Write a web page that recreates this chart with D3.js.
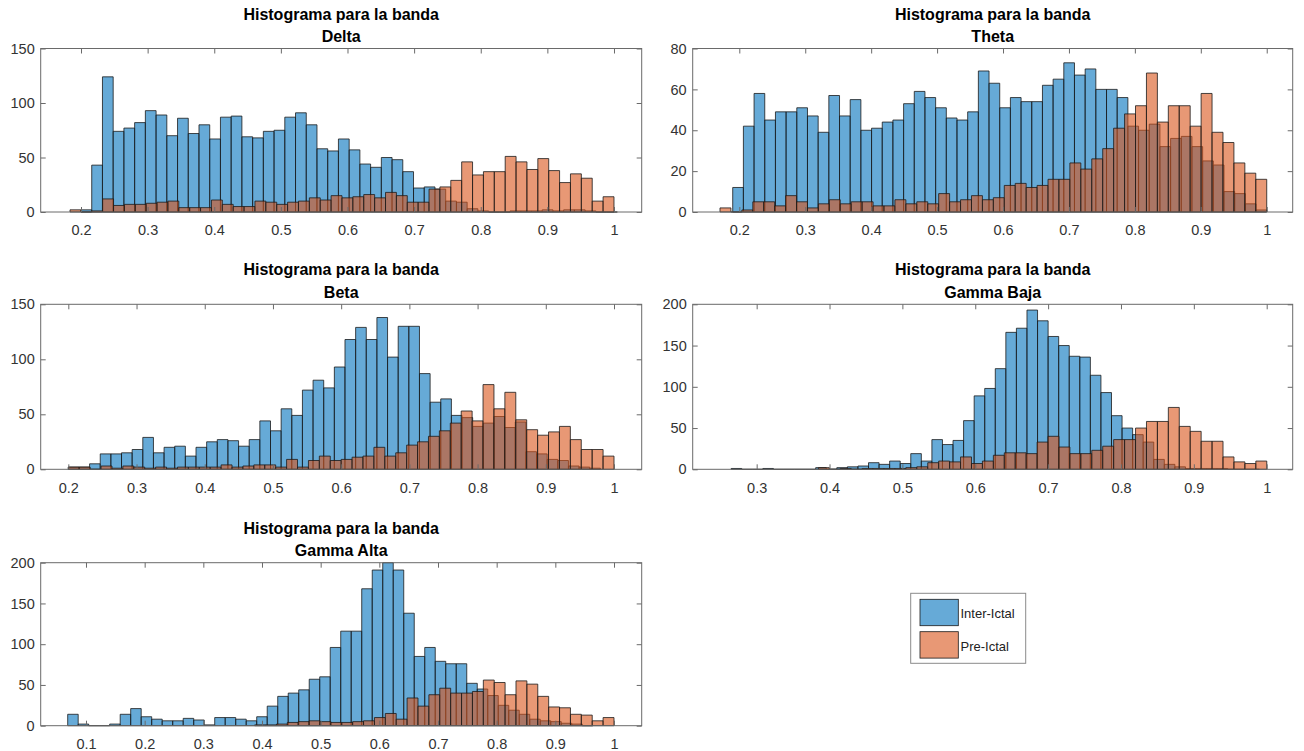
<!DOCTYPE html>
<html>
<head>
<meta charset="utf-8">
<script src="https://cdn.jsdelivr.net/npm/d3@7"></script>
<style>
  body { margin: 0; background: #fff; }
  svg { display: block; font-family: "Liberation Sans", Arial, Helvetica, sans-serif; }
</style>
</head>
<body>
<svg id="chart" width="1304" height="751"></svg>
<script>
// ---- data ---------------------------------------------------------------
const seriesNames = ["Inter-Ictal", "Pre-Ictal"];
const bandNames = ["Delta", "Theta", "Beta", "Gamma Baja", "Gamma Alta"];
const titlePrefix = "Histograma para la banda";

// each histogram: [first bin edge, bin width] and the counts per bin
const deltaInterBins = [0.2, 0.0161];
const deltaInter = [2,43,124,74,77,82,93,89,70,86,72,80,67,87,88,69,68,74,75,87,91,80,58,56,67,57,44,41,50,48,37,22,23,21,10,9,3,1,0,0,1,1,1,2,1,2,2,1,0,0];
const deltaPreBins = [0.1835, 0.01633];
const deltaPre = [2,0,1,12,6,7,7,8,9,10,4,4,4,11,7,5,5,10,9,7,9,10,13,11,15,13,14,16,13,18,15,9,9,21,23,29,46,34,37,37,51,46,39,49,38,27,35,31,10,14];

const thetaInterBins = [0.19, 0.0162];
const thetaInter = [12,42,58,45,49,49,51,47,39,57,47,55,40,41,44,45,53,59,56,51,46,45,49,69,63,51,56,54,54,62,65,73,67,70,60,60,56,42,40,43,32,36,37,32,25,23,10,9,4,1];
const thetaPreBins = [0.1707, 0.016586];
const thetaPre = [2,0,1,5,5,3,8,5,2,4,6,4,5,5,3,3,6,4,5,4,9,5,6,8,6,7,13,14,12,13,16,16,24,21,26,31,41,48,52,68,44,52,52,42,58,39,34,24,19,16];

const betaInterBins = [0.2, 0.0156];
const betaInter = [2,2,5,14,14,15,18,29,15,20,21,12,20,25,27,26,21,27,44,35,55,49,72,81,74,93,118,129,118,138,102,130,130,87,61,64,49,47,39,42,48,38,43,16,14,9,8,3,2,1];
const betaPreBins = [0.2, 0.016];
const betaPre = [2,2,0,3,1,3,2,1,2,1,2,2,2,2,4,2,3,4,4,2,9,2,8,12,8,9,11,12,20,12,15,22,25,30,35,42,53,44,77,55,70,45,36,31,34,39,27,18,18,12];

const gammaBajaInterBins = [0.265, 0.0145];
const gammaBajaInter = [1,0,0,1,0,0,0,0,2,0,2,3,4,8,6,10,7,19,10,36,30,35,59,89,98,122,166,171,193,180,161,150,137,136,114,93,65,50,42,33,12,6,3,1,1,1,1,0,0,0];
const gammaBajaPreBins = [0.3847, 0.01501];
const gammaBajaPre = [2,0,1,0,1,1,1,1,2,3,8,10,9,15,7,10,17,20,20,19,33,40,27,19,19,23,28,36,36,50,58,58,75,52,46,34,34,15,9,7,10];

const gammaAltaInterBins = [0.0688, 0.0179];
const gammaAltaInter = [14,2,0,0,2,14,21,11,8,6,6,9,7,1,10,10,8,6,11,24,36,40,44,57,60,96,116,116,168,191,200,191,138,85,96,79,76,76,52,45,37,25,19,14,8,6,5,3,2,0];
const gammaAltaPreBins = [0.3875, 0.01856];
const gammaAltaPre = [1,1,2,4,5,6,5,4,4,5,6,10,15,8,34,24,38,46,40,40,42,56,53,38,55,51,36,23,22,14,13,6,10];

// axis limits and ticks
const deltaXRange = [0.1395, 1.0416], deltaYTicks = [0, 50, 100, 150];
const thetaXRange = [0.1293, 1.0394], thetaYTicks = [0, 20, 40, 60, 80];
const betaXRange = [0.1595, 1.0406], betaYTicks = [0, 50, 100, 150];
const gammaBajaXRange = [0.2122, 1.0357], gammaBajaYTicks = [0, 50, 100, 150, 200];
const gammaAltaXRange = [0.0228, 1.0472], gammaAltaYTicks = [0, 50, 100, 150, 200];
const xTicksFrom02 = [0.2, 0.3, 0.4, 0.5, 0.6, 0.7, 0.8, 0.9, 1];
const xTicksFrom03 = [0.3, 0.4, 0.5, 0.6, 0.7, 0.8, 0.9, 1];
const xTicksFrom01 = [0.1, 0.2, 0.3, 0.4, 0.5, 0.6, 0.7, 0.8, 0.9, 1];

const panels = [
  { band: bandNames[0], xRange: deltaXRange, xTicks: xTicksFrom02, yTicks: deltaYTicks,
    series: [{ bins: deltaInterBins, counts: deltaInter }, { bins: deltaPreBins, counts: deltaPre }] },
  { band: bandNames[1], xRange: thetaXRange, xTicks: xTicksFrom02, yTicks: thetaYTicks,
    series: [{ bins: thetaInterBins, counts: thetaInter }, { bins: thetaPreBins, counts: thetaPre }] },
  { band: bandNames[2], xRange: betaXRange, xTicks: xTicksFrom02, yTicks: betaYTicks,
    series: [{ bins: betaInterBins, counts: betaInter }, { bins: betaPreBins, counts: betaPre }] },
  { band: bandNames[3], xRange: gammaBajaXRange, xTicks: xTicksFrom03, yTicks: gammaBajaYTicks,
    series: [{ bins: gammaBajaInterBins, counts: gammaBajaInter }, { bins: gammaBajaPreBins, counts: gammaBajaPre }] },
  { band: bandNames[4], xRange: gammaAltaXRange, xTicks: xTicksFrom01, yTicks: gammaAltaYTicks,
    series: [{ bins: gammaAltaInterBins, counts: gammaAltaInter }, { bins: gammaAltaPreBins, counts: gammaAltaPre }] }
];

// ---- layout & style -----------------------------------------------------
const frames = [
  { left: 40.7,  right: 641.7,  top: 48.5,  bottom: 212 },
  { left: 692.7, right: 1292.7, top: 48.5,  bottom: 212 },
  { left: 40.7,  right: 641.7,  top: 304.3, bottom: 469.3 },
  { left: 692.7, right: 1292.7, top: 304.3, bottom: 469.3 },
  { left: 40.7,  right: 641.7,  top: 562.7, bottom: 725.7 }
];
const colors = ["#0072BD", "#D95319"];
const faceAlpha = 0.6;
const axisColor = "#6a6a6a";
const tickFont = "14.5px";

const svg = d3.select("#chart");

panels.forEach((p, i) => {
  const f = frames[i];
  const x = d3.scaleLinear().domain(p.xRange).range([f.left, f.right]);
  const y = d3.scaleLinear().domain([0, d3.max(p.yTicks)]).range([f.bottom, f.top]);
  const g = svg.append("g").attr("class", "panel");

  // histogram bars, first series underneath the second
  p.series.forEach((s, si) => {
    const [start, width] = s.bins;
    const bins = s.counts.map((c, k) => ({ lo: start + k * width, hi: start + (k + 1) * width, c }));
    g.append("g")
      .selectAll("path")
      .data(bins)
      .join("path")
      .attr("d", d => `M${x(d.lo)},${y(0)}V${y(d.c)}H${x(d.hi)}V${y(0)}Z`)
      .attr("fill", colors[si])
      .attr("fill-opacity", faceAlpha)
      .attr("stroke", "#1a1a1a")
      .attr("stroke-width", 0.8);
  });

  // axes with inward ticks on all four sides
  const styleAxis = sel => {
    sel.select(".domain").remove();
    sel.selectAll(".tick line").attr("stroke", axisColor);
    sel.selectAll(".tick text").attr("fill", "#333").style("font-size", tickFont)
      .style("font-family", "'Liberation Sans', Arial, sans-serif");
  };
  g.append("g").attr("transform", `translate(0,${f.bottom})`)
    .call(d3.axisBottom(x).tickValues(p.xTicks).tickFormat(d3.format("~g"))
      .tickSizeInner(-5).tickSizeOuter(0).tickPadding(13))
    .call(styleAxis);
  g.append("g").attr("transform", `translate(0,${f.top})`)
    .call(d3.axisTop(x).tickValues(p.xTicks).tickFormat("").tickSizeInner(-5).tickSizeOuter(0))
    .call(styleAxis);
  g.append("g").attr("transform", `translate(${f.left},0)`)
    .call(d3.axisLeft(y).tickValues(p.yTicks).tickFormat(d3.format("d"))
      .tickSizeInner(-5).tickSizeOuter(0).tickPadding(6))
    .call(styleAxis);
  g.append("g").attr("transform", `translate(${f.right},0)`)
    .call(d3.axisRight(y).tickValues(p.yTicks).tickFormat("").tickSizeInner(-5).tickSizeOuter(0))
    .call(styleAxis);

  g.append("rect")
    .attr("x", f.left).attr("y", f.top)
    .attr("width", f.right - f.left).attr("height", f.bottom - f.top)
    .attr("fill", "none").attr("stroke", axisColor).attr("stroke-width", 1);

  // two-line title
  const cx = (f.left + f.right) / 2;
  const title = g.append("text")
    .attr("text-anchor", "middle")
    .attr("font-weight", "bold")
    .attr("font-size", "16px")
    .attr("fill", "#000");
  title.append("tspan").attr("x", cx).attr("y", f.top - 29).text(titlePrefix);
  title.append("tspan").attr("x", cx).attr("y", f.top - 6.5).text(p.band);
});

// ---- legend -------------------------------------------------------------
const legend = svg.append("g").attr("class", "legend");
legend.append("rect")
  .attr("x", 910.7).attr("y", 593.3).attr("width", 115).attr("height", 70)
  .attr("fill", "#fff").attr("stroke", "#8a8a8a").attr("stroke-width", 1);
const rows = legend.selectAll("g.row").data(seriesNames).join("g")
  .attr("class", "row")
  .attr("transform", (d, i) => `translate(920,${599.3 + i * 32.4})`);
rows.append("rect")
  .attr("width", 38.3).attr("height", 26.4)
  .attr("fill", (d, i) => colors[i]).attr("fill-opacity", faceAlpha)
  .attr("stroke", "#1a1a1a").attr("stroke-width", 0.8);
rows.append("text")
  .attr("x", 40.5).attr("y", 19)
  .attr("font-size", "13px").attr("fill", "#222")
  .text(d => d);
</script>
</body>
</html>
